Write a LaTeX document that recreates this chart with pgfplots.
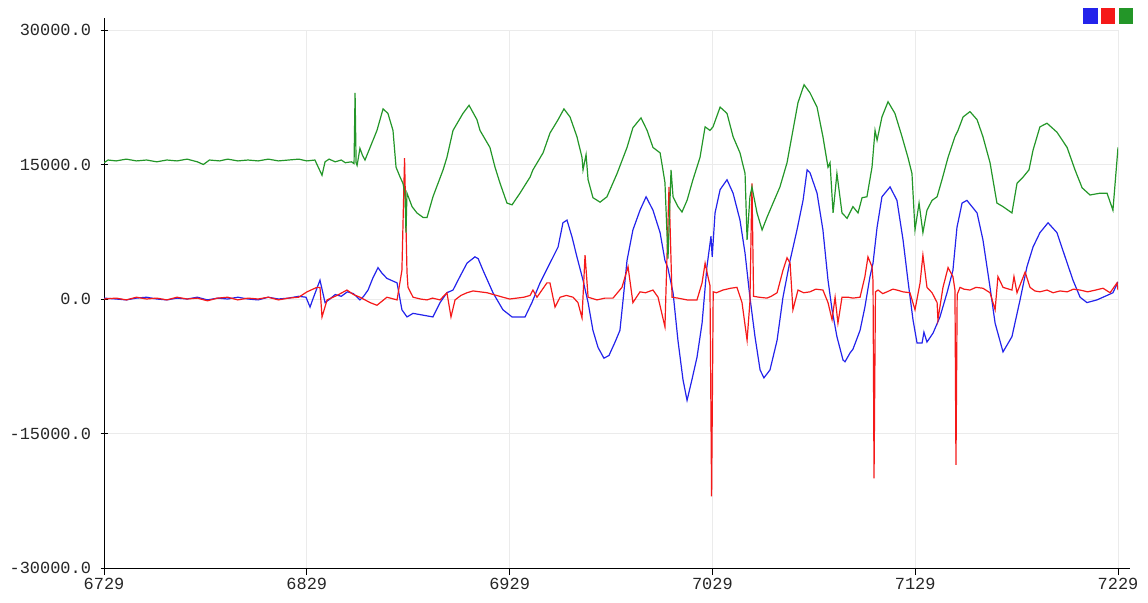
\documentclass[border=0pt]{standalone}
\usepackage{pgfplots}
\pgfplotsset{compat=1.18}
\usepackage{fontspec}
\setmainfont{Liberation Sans}
\newfontfamily\monofont{Liberation Mono}
\definecolor{sblue}{RGB}{35,35,235}
\definecolor{sred}{RGB}{245,25,25}
\definecolor{sgreen}{RGB}{35,150,40}
\begin{document}
\begin{tikzpicture}
\begin{axis}[
  name=ax,
  scale only axis, width=1014bp, height=538bp,
  xmin=6729, xmax=7229, ymin=-30000, ymax=30000,
  axis lines=left,
  axis line style={-, black, line width=0.8bp},
  every outer x axis line/.append style={shorten >=-12bp},
  every outer y axis line/.append style={shorten >=-12bp},
  xtick={6729,6829,6929,7029,7129,7229},
  xticklabels={6729,6829,6929,7029,7129,7229},
  ytick={-30000,-15000,0,15000,30000},
  yticklabels={-30000.0,-15000.0,0.0,15000.0,30000.0},
  ticklabel style={font=\monofont\fontsize{17}{19}\selectfont, text=black!85},
  yticklabel style={xshift=-6bp},
  grid=major, major grid style={black!8, line width=0.8bp},
  major tick length=7bp, tick style={black, line width=0.8bp},
  xtick align=outside, ytick align=center,
  scaled ticks=false,
  legend columns=3,
  legend style={at={(1.0158,1.041)}, anchor=north east, draw=none, fill=none, inner sep=0pt, outer sep=0pt, nodes={inner sep=0pt}, /tikz/every even column/.append style={column sep=2.5bp}},
  legend image code/.code={\fill[#1] (0bp,-7.5bp) rectangle (13bp,7.5bp);},
]
\addplot[color=sblue, line width=1.2bp] coordinates {
(6729,100)(6735,0)(6740,-100)(6745,100)(6750,200)(6755,0)(6760,-100)(6765,100)(6770,0)(6775,200)(6780,-100)(6785,100)(6790,0)(6795,200)(6800,0)(6805,-100)(6810,200)(6815,0)(6820,100)(6825,300)(6828.6,200)(6830.6,-900)(6832,0)(6835.5,2100)(6838,-400)(6840.4,0)(6843,500)(6846,300)(6849,800)(6852,600)(6855.2,-100)(6857,300)(6859.2,1000)(6861.5,2300)(6864.1,3500)(6866,2900)(6868.5,2300)(6873.5,1800)(6875.9,-1200)(6878.4,-2000)(6881.4,-1600)(6886.3,-1800)(6891.2,-2000)(6894.7,-400)(6898.1,700)(6901.1,1000)(6904.5,2500)(6908,4000)(6911.9,4700)(6913.5,4500)(6915.9,3200)(6920.8,700)(6925.7,-1200)(6930.2,-2000)(6936.6,-2000)(6940,-400)(6944,1800)(6948.9,4000)(6952.9,5800)(6955.3,8500)(6957.3,8800)(6959.8,6900)(6962.2,4700)(6965.2,2100)(6967.7,-400)(6970.1,-3500)(6972.6,-5400)(6975.5,-6600)(6978,-6300)(6981,-4800)(6983.4,-3500)(6985,0)(6986.9,4300)(6989.8,7700)(6993.3,9900)(6996.3,11400)(6999.7,9900)(7003.2,7400)(7005.6,4300)(7007,3500)(7009.6,700)(7012,-4600)(7014.5,-9000)(7016.5,-11300)(7018.9,-9000)(7021.4,-6500)(7023.9,-2700)(7026.3,3600)(7028.3,7000)(7028.9,4700)(7030.3,9600)(7032.8,12200)(7036.2,13300)(7039.2,11800)(7042.6,8800)(7045.1,5100)(7047.5,200)(7050,-4200)(7052.5,-7900)(7054.4,-8800)(7057.4,-7900)(7060.9,-4600)(7063.8,200)(7067.3,4300)(7070.7,7700)(7073.7,11000)(7075.7,14400)(7077.1,14100)(7080.6,11800)(7083.5,7700)(7086,2100)(7088,-1200)(7090.4,-4200)(7093.4,-6800)(7094.4,-7000)(7096.9,-6000)(7098.3,-5600)(7101.8,-3500)(7104.2,-900)(7106.7,2500)(7108.2,4000)(7110.2,8000)(7112.6,11400)(7116.6,12500)(7120,11000)(7123,6600)(7125.4,2100)(7127.9,-2300)(7129.9,-4900)(7132.4,-4900)(7133.3,-3700)(7134.8,-4800)(7137.8,-3800)(7141.2,-2000)(7144.7,700)(7147.6,3200)(7149.6,8000)(7152.1,10700)(7154.5,11000)(7159.5,9600)(7162.4,6600)(7165.9,1300)(7168.4,-2700)(7172.3,-5900)(7176.7,-4200)(7180.7,-100)(7184.1,3600)(7187.1,5800)(7190.5,7400)(7194.5,8500)(7198.9,7400)(7202.9,4700)(7206.8,2100)(7210.3,200)(7213.7,-400)(7218.6,-100)(7223.6,400)(7226.5,700)(7229,1900)
};
\addlegendentry{\mbox{}}
\addplot[color=sred, line width=1.2bp] coordinates {
(6729,0)(6735,100)(6740,-100)(6745,200)(6750,0)(6755,100)(6760,-100)(6765,200)(6770,0)(6775,100)(6780,-200)(6785,100)(6790,200)(6795,-100)(6800,100)(6805,0)(6810,200)(6815,-100)(6820,100)(6825,200)(6829.1,800)(6834,1300)(6835.5,1300)(6836.5,-2000)(6839,-100)(6843.9,400)(6848.8,1000)(6852,500)(6855.2,200)(6860.2,-400)(6863.6,-700)(6868.5,200)(6873.5,-100)(6875.9,3200)(6877.2,15700)(6878.4,3000)(6878.9,1300)(6881.4,200)(6885,0)(6888.3,-100)(6891,100)(6894.7,-100)(6898.1,700)(6900.1,-2000)(6902.1,-100)(6905,400)(6908,700)(6911,900)(6914.4,800)(6917.9,700)(6921,500)(6925.7,200)(6929,0)(6932.6,100)(6936,200)(6939.1,400)(6940.5,1000)(6942.5,200)(6947.4,1800)(6948.9,1800)(6951.4,-900)(6953.9,200)(6957,400)(6960.3,200)(6962.7,-400)(6964.7,-2100)(6966.2,4900)(6967.7,200)(6972.1,-100)(6976,100)(6980,100)(6984.4,1300)(6987.4,3600)(6989.8,-400)(6993.3,800)(6996,700)(6999.7,1000)(7002.2,200)(7005.6,-3100)(7007.6,12500)(7009.1,200)(7012,100)(7016.5,-100)(7021.4,-100)(7023.9,1800)(7025.4,4000)(7026.8,2500)(7027.8,1500)(7028.6,-22000)(7029.4,800)(7031,700)(7034.2,1000)(7038,1200)(7041.1,1300)(7043.6,-400)(7046.1,-4600)(7047.5,-300)(7048.5,12900)(7049.3,300)(7052,200)(7055.9,100)(7058,300)(7060.9,700)(7063.8,3200)(7065.8,4600)(7067.3,4000)(7068.7,-1200)(7071.2,1000)(7074,700)(7077.1,800)(7080,1100)(7083.5,1000)(7086,-400)(7088,-2300)(7089.5,200)(7090.9,-2700)(7092.9,200)(7095.9,200)(7098.3,100)(7101.8,200)(7104.2,2500)(7105.7,4700)(7107.7,3600)(7108.2,2000)(7108.7,-20000)(7109.4,800)(7110.7,1000)(7113,600)(7115.1,800)(7118,1100)(7120,1000)(7123,800)(7126.4,700)(7128.9,-1200)(7131.4,1800)(7132.8,4900)(7134.8,1300)(7137.3,700)(7139.8,-400)(7140.2,-2300)(7142.7,1300)(7145.2,3500)(7147.6,2500)(7148.6,1000)(7149.1,-18500)(7149.7,500)(7151.1,1300)(7153,1100)(7156,1000)(7159,1300)(7162.4,1200)(7165.9,700)(7168.4,-1200)(7169.8,2500)(7172.3,1300)(7176.7,1000)(7177.7,2500)(7179.2,700)(7183.2,3000)(7185.6,1300)(7188,900)(7190.5,800)(7194,1000)(7197,700)(7200.4,900)(7204,800)(7207,1100)(7210.3,1000)(7214,800)(7218,1000)(7221.6,1200)(7225.1,700)(7228.5,1800)(7229,1000)
};
\addlegendentry{\mbox{}}
\addplot[color=sgreen, line width=1.2bp] coordinates {
(6729,15200)(6731,15500)(6735,15400)(6740,15600)(6745,15400)(6750,15500)(6755,15300)(6760,15500)(6765,15400)(6770,15600)(6775,15300)(6778,15000)(6781,15500)(6786,15400)(6790,15600)(6795,15400)(6800,15500)(6805,15400)(6810,15600)(6815,15400)(6820,15500)(6825,15600)(6829,15400)(6833,15500)(6836.5,13800)(6838,15300)(6840,15600)(6843,15300)(6846,15500)(6848,15200)(6851,15300)(6852.3,15100)(6852.8,23000)(6853.3,15200)(6853.8,14900)(6855.2,16800)(6856.5,16000)(6857.7,15500)(6860.2,16900)(6863.6,18800)(6866.6,21200)(6869,20700)(6871.5,18800)(6873,14700)(6875,13600)(6876.4,12900)(6877.4,11800)(6877.9,7400)(6878.4,11800)(6880.9,10300)(6883.3,9600)(6886.3,9100)(6888.3,9100)(6891.2,11400)(6896.2,14400)(6898.1,15800)(6901.1,18800)(6906,20700)(6909,21600)(6912.9,20000)(6914.4,18800)(6919.3,16900)(6921.8,14700)(6924.3,12900)(6927.7,10700)(6930.2,10500)(6934.1,11800)(6939.1,13600)(6940.5,14400)(6945.5,16300)(6948.9,18500)(6952.9,20000)(6955.8,21200)(6958.8,20300)(6962.2,18100)(6964.7,15800)(6965.2,14400)(6966.7,16100)(6967.7,13300)(6970.1,11300)(6973.6,10800)(6977,11400)(6982,14000)(6986.9,16900)(6989.8,19100)(6993.8,20200)(6996.8,18800)(6999.7,16900)(7003.2,16300)(7004.6,14400)(7005.6,13000)(7007.1,4500)(7008.6,14400)(7009.6,11400)(7012,10300)(7014,9700)(7016.5,11000)(7019.4,13300)(7022.9,15800)(7025.4,19200)(7027.8,18800)(7029.3,19200)(7032.8,21400)(7036.2,20700)(7039.2,18100)(7042.6,16300)(7045.1,14000)(7046.1,6600)(7047.5,11400)(7048.5,12500)(7051,9600)(7053.5,7700)(7055.9,9100)(7058.9,10700)(7062.3,12500)(7065.8,15200)(7068.7,18800)(7071.2,21900)(7074.2,23900)(7077.1,23000)(7080.6,21400)(7083.5,18100)(7086,14700)(7087,15200)(7088.5,9600)(7090.4,14000)(7092.9,9600)(7095.4,9000)(7098.3,10300)(7100.8,9600)(7102.8,11300)(7105.2,11400)(7107.7,14700)(7109.2,18800)(7110.2,17700)(7112.6,20300)(7115.6,22000)(7119,20700)(7122.5,18100)(7125.4,15800)(7127.4,14000)(7128.9,7700)(7130.9,10700)(7132.8,7400)(7134.8,9900)(7137.3,11000)(7139.8,11400)(7142.2,13300)(7145.2,15800)(7148.6,18100)(7150.1,18800)(7152.6,20300)(7156,20900)(7159.5,20000)(7162.4,18100)(7165.9,15200)(7169.3,10700)(7172.3,10300)(7176.7,9600)(7179.2,12900)(7182.2,13600)(7185.1,14400)(7187.1,16600)(7190.5,19200)(7194,19600)(7198.9,18600)(7203.9,16900)(7207.8,14400)(7211.3,12400)(7215.2,11600)(7220.1,11800)(7223.6,11800)(7226.5,9900)(7229,16900)
};
\addlegendentry{\mbox{}}
\end{axis}
\pgfresetboundingbox
\path ([shift={(-104bp,-34bp)}]ax.south west) rectangle ([shift={(30bp,30bp)}]ax.north east);
\end{tikzpicture}
\end{document}
